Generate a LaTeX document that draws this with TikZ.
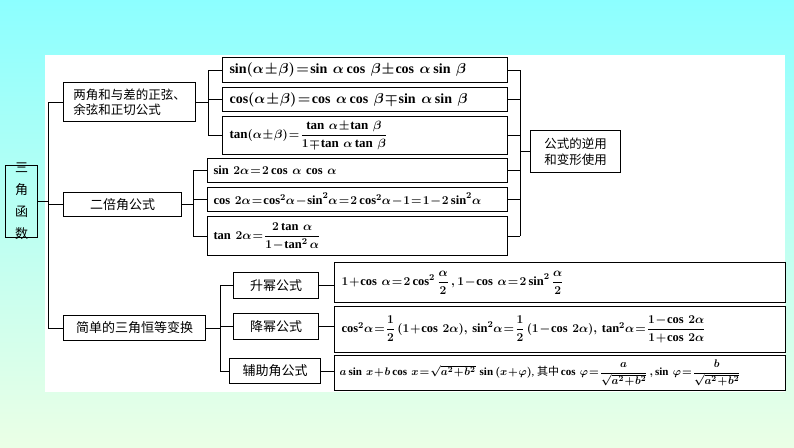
\documentclass[tikz,border=0pt]{standalone}
\usepackage{fontspec}
\usepackage{amsmath}
\setmainfont{Liberation Serif}
\newfontfamily\cjk{Noto Sans CJK SC}
\newcommand{\tightm}{\thickmuskip=1.5mu\medmuskip=1mu}
\begin{document}
\begin{tikzpicture}[x=1pt,y=-1pt,
  bx/.style={draw,line width=1pt,inner sep=0pt,anchor=north west},
  ln/.style={line width=0.9pt},
  ta/.style={font=\fontsize{14}{16}\selectfont\boldmath\tightm,anchor=west},
  tb/.style={font=\fontsize{12.5}{15}\selectfont\boldmath\tightm,anchor=west},
  ch/.style={font=\cjk\fontsize{13}{16}\selectfont}]
\useasboundingbox (0,0) rectangle (794,447);
\shade[top color=cyan!45,bottom color=yellow!20!green!10!white] (0,0) rectangle (794,447);
\fill[white] (45,55) rectangle (785,392);
% boxes
\node[bx,minimum width=32pt,minimum height=72pt] (root) at (5,165) {};
\node[font=\cjk\fontsize{13}{22}\selectfont,align=center] at (root.center) {三\\角\\函\\数};
\node[bx,minimum width=132pt,minimum height=39pt,font=\cjk\fontsize{12.5}{15}\selectfont,align=left] (A) at (63,82) {两角和与差的正弦、\\余弦和正切公式};
\node[bx,minimum width=285pt,minimum height=25pt] (A1) at (222,57) {};
\node[ta] at ([xshift=4pt]A1.west) {$\sin(\alpha\pm\beta)=\sin\,\alpha\cos\,\beta\pm\cos\,\alpha\sin\,\beta$};
\node[bx,minimum width=285pt,minimum height=24pt] (A2) at (222,87) {};
\node[ta] at ([xshift=4pt]A2.west) {$\cos(\alpha\pm\beta)=\cos\,\alpha\cos\,\beta\mp\sin\,\alpha\sin\,\beta$};
\node[bx,minimum width=285pt,minimum height=38pt] (A3) at (222,116) {};
\node[ta,font=\fontsize{13}{15}\selectfont\boldmath\tightm] at ([xshift=4pt]A3.west) {$\tan(\alpha\pm\beta)=\dfrac{\tan\,\alpha\pm\tan\,\beta}{1\mp\tan\,\alpha\tan\,\beta}$};
\node[bx,minimum width=118pt,minimum height=24pt,ch] (B) at (63,192) {二倍角公式};
\node[bx,minimum width=300pt,minimum height=24pt] (B1) at (207,158) {};
\node[tb] at ([xshift=3pt]B1.west) {$\sin\,2\alpha=2\cos\,\alpha\,\cos\,\alpha$};
\node[bx,minimum width=300pt,minimum height=24pt] (B2) at (207,187) {};
\node[tb] at ([xshift=3pt]B2.west) {$\cos\,2\alpha=\cos^2\!\alpha-\sin^2\!\alpha=2\cos^2\!\alpha-1=1-2\sin^2\!\alpha$};
\node[bx,minimum width=300pt,minimum height=39pt] (B3) at (207,216) {};
\node[tb] at ([xshift=3pt]B3.west) {$\tan\,2\alpha=\dfrac{2\tan\,\alpha}{1-\tan^2\alpha}$};
\node[bx,minimum width=90pt,minimum height=42pt,font=\cjk\fontsize{12.5}{16}\selectfont,align=left] (R) at (530,130) {公式的逆用\\和变形使用};
\node[bx,minimum width=142pt,minimum height=25pt,ch] (C) at (63,315) {简单的三角恒等变换};
\node[bx,minimum width=85pt,minimum height=26pt,ch] (C1) at (233,272) {升幂公式};
\node[bx,minimum width=85pt,minimum height=26pt,ch] (C2) at (233,313) {降幂公式};
\node[bx,minimum width=91pt,minimum height=25pt,ch] (C3) at (229,358) {辅助角公式};
\node[bx,minimum width=451pt,minimum height=40pt] (D1) at (334,262) {};
\node[tb] at ([xshift=4pt]D1.west) {$1+\cos\,\alpha=2\cos^2\dfrac{\alpha}{2}\,,1-\cos\,\alpha=2\sin^2\dfrac{\alpha}{2}$};
\node[bx,minimum width=451pt,minimum height=46pt] (D2) at (334,306) {};
\node[tb] at ([xshift=4pt]D2.west) {$\cos^2\!\alpha=\dfrac{1}{2}\,(1+\cos\,2\alpha),\,\sin^2\!\alpha=\dfrac{1}{2}\,(1-\cos\,2\alpha),\,\tan^2\!\alpha=\dfrac{1-\cos\,2\alpha}{1+\cos\,2\alpha}$};
\node[bx,minimum width=451pt,minimum height=35pt] (D3) at (334,355) {};
\node[anchor=west,font=\fontsize{11}{13}\selectfont\boldmath\tightm] at ([xshift=2pt]D3.west) {$a\sin\,x+b\cos\,x=\sqrt{a^2+b^2}\,\sin\,(x+\varphi)$, {\cjk 其中}\,$\cos\,\varphi=\dfrac{a}{\sqrt{a^2+b^2}}\,,\sin\,\varphi=\dfrac{b}{\sqrt{a^2+b^2}}$};
% connectors
\coordinate (t) at (48,0);
\draw[ln] (root.east) -- (root.east -| t);
\draw[ln] (A.west -| t) -- (C.west -| t);
\foreach \n in {A,B,C} \draw[ln] (\n.west -| t) -- (\n.west);
\coordinate (ta) at (208,0);
\draw[ln] (A1.west -| ta) -- (A3.west -| ta);
\draw[ln] (A.east) -- (A.east -| ta);
\foreach \n in {A1,A2,A3} \draw[ln] (\n.west -| ta) -- (\n.west);
\coordinate (tb) at (193,0);
\draw[ln] (B1.west -| tb) -- (B3.west -| tb);
\draw[ln] (B.east) -- (B.east -| tb);
\foreach \n in {B1,B2,B3} \draw[ln] (\n.west -| tb) -- (\n.west);
\coordinate (tc) at (220,0);
\draw[ln] (C1.west -| tc) -- (C3.west -| tc);
\draw[ln] (C.east) -- (C.east -| tc);
\foreach \n in {C1,C2,C3} \draw[ln] (\n.west -| tc) -- (\n.west);
\draw[ln] (C1.east) -- (C1.east -| D1.west);
\draw[ln] (C2.east) -- (C2.east -| D2.west);
\draw[ln] (C3.east) -- (C3.east -| D3.west);
\coordinate (tr) at (520,0);
\draw[ln] (A1.east -| tr) -- (B3.east -| tr);
\foreach \n in {A1,A2,A3,B1,B2,B3} \draw[ln] (\n.east) -- (\n.east -| tr);
\draw[ln] (R.west -| tr) -- (R.west);
\end{tikzpicture}
\end{document}
